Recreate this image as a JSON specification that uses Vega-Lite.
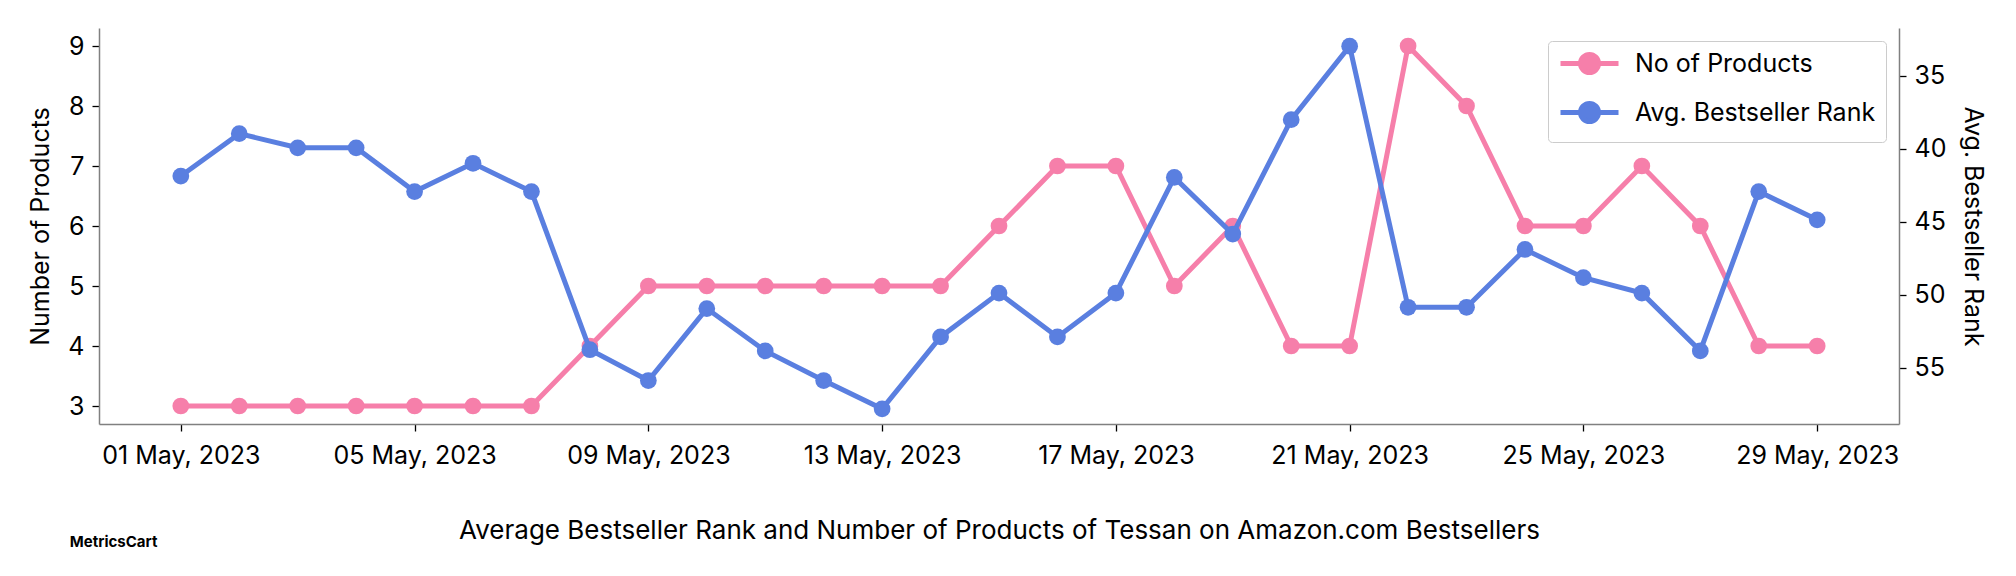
{
  "$schema": "https://vega.github.io/schema/vega-lite/v6.json",
  "width": 1800,
  "height": 396,
  "autosize": {"type": "none"},
  "padding": {"left": 99, "top": 28, "right": 117, "bottom": 152},
  "background": "white",
  "config": {
    "font": "Inter",
    "view": {"stroke": null},
    "axis": {
      "grid": false,
      "domainColor": "#808080",
      "domainWidth": 1.5,
      "tickColor": "#000000",
      "tickSize": 7,
      "tickWidth": 1.3,
      "labelColor": "#000000",
      "labelFontSize": 25,
      "labelPadding": 8,
      "titleFontSize": 25,
      "titleFontWeight": "normal",
      "titleColor": "#000000"
    }
  },
  "title": {
    "text": "MetricsCart",
    "orient": "bottom",
    "anchor": "start",
    "frame": "bounds",
    "fontSize": 15,
    "fontWeight": "bold",
    "color": "#000000",
    "dx": 41,
    "offset": -8
  },
  "datasets": {
    "products": [
      {"date": "2023-05-01", "series": "No of Products", "value": 3},
      {"date": "2023-05-02", "series": "No of Products", "value": 3},
      {"date": "2023-05-03", "series": "No of Products", "value": 3},
      {"date": "2023-05-04", "series": "No of Products", "value": 3},
      {"date": "2023-05-05", "series": "No of Products", "value": 3},
      {"date": "2023-05-06", "series": "No of Products", "value": 3},
      {"date": "2023-05-07", "series": "No of Products", "value": 3},
      {"date": "2023-05-08", "series": "No of Products", "value": 4},
      {"date": "2023-05-09", "series": "No of Products", "value": 5},
      {"date": "2023-05-10", "series": "No of Products", "value": 5},
      {"date": "2023-05-11", "series": "No of Products", "value": 5},
      {"date": "2023-05-12", "series": "No of Products", "value": 5},
      {"date": "2023-05-13", "series": "No of Products", "value": 5},
      {"date": "2023-05-14", "series": "No of Products", "value": 5},
      {"date": "2023-05-15", "series": "No of Products", "value": 6},
      {"date": "2023-05-16", "series": "No of Products", "value": 7},
      {"date": "2023-05-17", "series": "No of Products", "value": 7},
      {"date": "2023-05-18", "series": "No of Products", "value": 5},
      {"date": "2023-05-19", "series": "No of Products", "value": 6},
      {"date": "2023-05-20", "series": "No of Products", "value": 4},
      {"date": "2023-05-21", "series": "No of Products", "value": 4},
      {"date": "2023-05-22", "series": "No of Products", "value": 9},
      {"date": "2023-05-23", "series": "No of Products", "value": 8},
      {"date": "2023-05-24", "series": "No of Products", "value": 6},
      {"date": "2023-05-25", "series": "No of Products", "value": 6},
      {"date": "2023-05-26", "series": "No of Products", "value": 7},
      {"date": "2023-05-27", "series": "No of Products", "value": 6},
      {"date": "2023-05-28", "series": "No of Products", "value": 4},
      {"date": "2023-05-29", "series": "No of Products", "value": 4}
    ],
    "rank": [
      {"date": "2023-05-01", "series": "Avg. Bestseller Rank", "value": 41.87},
      {"date": "2023-05-02", "series": "Avg. Bestseller Rank", "value": 38.96},
      {"date": "2023-05-03", "series": "Avg. Bestseller Rank", "value": 39.93},
      {"date": "2023-05-04", "series": "Avg. Bestseller Rank", "value": 39.93},
      {"date": "2023-05-05", "series": "Avg. Bestseller Rank", "value": 42.93},
      {"date": "2023-05-06", "series": "Avg. Bestseller Rank", "value": 40.99},
      {"date": "2023-05-07", "series": "Avg. Bestseller Rank", "value": 42.93},
      {"date": "2023-05-08", "series": "Avg. Bestseller Rank", "value": 53.77},
      {"date": "2023-05-09", "series": "Avg. Bestseller Rank", "value": 55.88},
      {"date": "2023-05-10", "series": "Avg. Bestseller Rank", "value": 50.95},
      {"date": "2023-05-11", "series": "Avg. Bestseller Rank", "value": 53.85},
      {"date": "2023-05-12", "series": "Avg. Bestseller Rank", "value": 55.88},
      {"date": "2023-05-13", "series": "Avg. Bestseller Rank", "value": 57.82},
      {"date": "2023-05-14", "series": "Avg. Bestseller Rank", "value": 52.89},
      {"date": "2023-05-15", "series": "Avg. Bestseller Rank", "value": 49.89},
      {"date": "2023-05-16", "series": "Avg. Bestseller Rank", "value": 52.89},
      {"date": "2023-05-17", "series": "Avg. Bestseller Rank", "value": 49.89},
      {"date": "2023-05-18", "series": "Avg. Bestseller Rank", "value": 41.96},
      {"date": "2023-05-19", "series": "Avg. Bestseller Rank", "value": 45.84},
      {"date": "2023-05-20", "series": "Avg. Bestseller Rank", "value": 38.0},
      {"date": "2023-05-21", "series": "Avg. Bestseller Rank", "value": 32.97},
      {"date": "2023-05-22", "series": "Avg. Bestseller Rank", "value": 50.86},
      {"date": "2023-05-23", "series": "Avg. Bestseller Rank", "value": 50.86},
      {"date": "2023-05-24", "series": "Avg. Bestseller Rank", "value": 46.9},
      {"date": "2023-05-25", "series": "Avg. Bestseller Rank", "value": 48.83},
      {"date": "2023-05-26", "series": "Avg. Bestseller Rank", "value": 49.89},
      {"date": "2023-05-27", "series": "Avg. Bestseller Rank", "value": 53.85},
      {"date": "2023-05-28", "series": "Avg. Bestseller Rank", "value": 42.93},
      {"date": "2023-05-29", "series": "Avg. Bestseller Rank", "value": 44.87}
    ]
  },
  "encoding": {
    "x": {
      "field": "date",
      "type": "temporal",
      "scale": {
        "type": "utc",
        "domain": [
          {"year": 2023, "month": 4, "date": 29, "hours": 14, "minutes": 24, "utc": true},
          {"year": 2023, "month": 5, "date": 30, "hours": 9, "minutes": 36, "utc": true}
        ]
      },
      "axis": {
        "title": "Average Bestseller Rank and Number of Products of Tessan on Amazon.com Bestsellers",
        "titleFontSize": 26,
        "titlePadding": 49,
        "labelExpr": "utcFormat(datum.value, '%d %b, %Y')",
        "labelFlush": false,
        "labelPadding": 12,
        "values": [
          {"year": 2023, "month": 5, "date": 1, "utc": true},
          {"year": 2023, "month": 5, "date": 5, "utc": true},
          {"year": 2023, "month": 5, "date": 9, "utc": true},
          {"year": 2023, "month": 5, "date": 13, "utc": true},
          {"year": 2023, "month": 5, "date": 17, "utc": true},
          {"year": 2023, "month": 5, "date": 21, "utc": true},
          {"year": 2023, "month": 5, "date": 25, "utc": true},
          {"year": 2023, "month": 5, "date": 29, "utc": true}
        ]
      }
    },
    "color": {
      "field": "series",
      "type": "nominal",
      "scale": {
        "domain": ["No of Products", "Avg. Bestseller Rank"],
        "range": ["#F67FAA", "#5A7FE0"]
      },
      "legend": {
        "title": null,
        "orient": "top-right",
        "offset": 13,
        "labelFontSize": 25,
        "labelColor": "#000000",
        "labelLimit": 500,
        "padding": 10,
        "rowPadding": 10,
        "strokeColor": "#CCCCCC",
        "fillColor": "#FFFFFF",
        "cornerRadius": 4,
        "symbolType": "M-2.9,0H2.9M-0.9,0A0.9,0.9,0,1,0,0.9,0A0.9,0.9,0,1,0,-0.9,0Z",
        "symbolSize": 400,
        "symbolStrokeWidth": 5,
        "symbolOffset": 19,
        "labelOffset": 33,
        "encode": {
          "symbols": {
            "update": {
              "fill": {"scale": "color", "field": "value"},
              "stroke": {"scale": "color", "field": "value"},
              "fillOpacity": {"value": 1}
            }
          }
        }
      }
    }
  },
  "layer": [
    {
      "data": {"name": "products"},
      "mark": {"type": "line", "strokeWidth": 5, "point": {"filled": true, "size": 280, "opacity": 1}},
      "encoding": {
        "y": {
          "field": "value",
          "type": "quantitative",
          "scale": {"domain": [2.7, 9.3], "nice": false, "zero": false},
          "axis": {"title": "Number of Products", "values": [3, 4, 5, 6, 7, 8, 9], "titlePadding": 14}
        }
      }
    },
    {
      "data": {"name": "rank"},
      "mark": {"type": "line", "strokeWidth": 5, "point": {"filled": true, "size": 280, "opacity": 1}},
      "encoding": {
        "y": {
          "field": "value",
          "type": "quantitative",
          "scale": {"domain": [31.72, 58.86], "nice": false, "zero": false, "reverse": true},
          "axis": {"title": "Avg. Bestseller Rank", "orient": "right", "values": [35, 40, 45, 50, 55], "titlePadding": 14}
        }
      }
    }
  ],
  "resolve": {"scale": {"y": "independent"}}
}
